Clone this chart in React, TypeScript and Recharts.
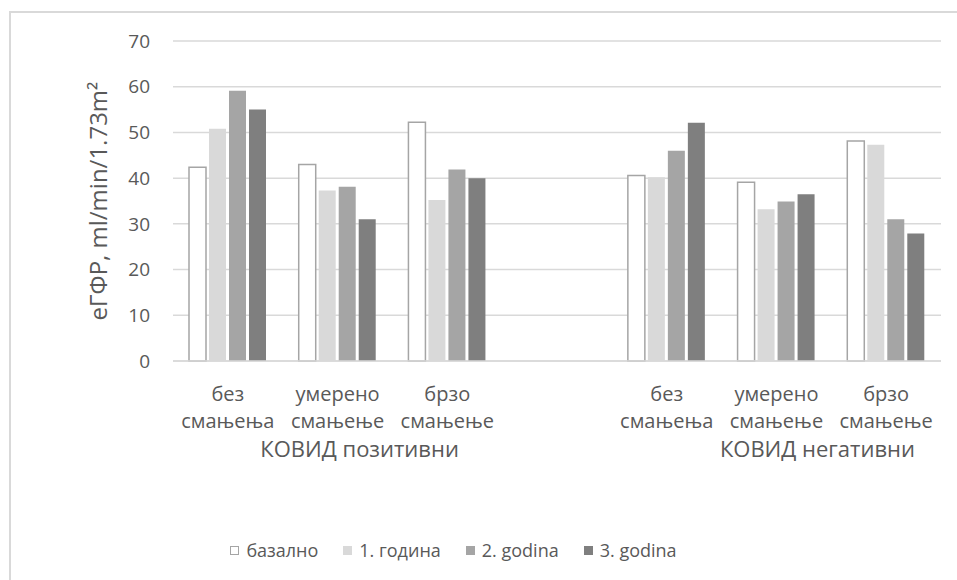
import React from "react";
import { BarChart, Bar, XAxis, YAxis, CartesianGrid, Legend } from "recharts";

// Category slots; the empty slot separates the two patient groups
const categoryTop = ["без", "умерено", "брзо", "", "без", "умерено", "брзо"];
const categoryBottom = ["смањења", "смањење", "смањење", "", "смањења", "смањење", "смањење"];
const groupLabels = ["КОВИД позитивни", "КОВИД негативни"];

const baseline = [42.4, 43.0, 52.2, null, 40.6, 39.1, 48.1];
const year1 = [50.8, 37.3, 35.2, null, 40.2, 33.2, 47.3];
const year2 = [59.1, 38.1, 41.9, null, 46.0, 34.9, 31.0];
const year3 = [55.0, 31.0, 40.0, null, 52.1, 36.5, 27.9];

const yTicks = [0, 10, 20, 30, 40, 50, 60, 70];

const seriesKeys = ["baseline", "year1", "year2", "year3"];
const seriesNames = ["базално", "1. година", "2. godina", "3. godina"];

const data = categoryTop.map((top, i) => ({
  key: `c${i}`,
  top,
  bottom: categoryBottom[i],
  baseline: baseline[i],
  year1: year1[i],
  year2: year2[i],
  year3: year3[i],
}));

const FONT = "'Open Sans', sans-serif";
const TEXT = "#595959";

// group label sits under the middle slot of each group, shifted a little right
const groupAt: Record<number, { label: string; dx: number }> = {
  1: { label: groupLabels[0], dx: 22 },
  5: { label: groupLabels[1], dx: 41 },
};

function CategoryTick(props: any) {
  const { x, y, payload, index } = props;
  const i = payload?.index ?? index;
  const item = data[i];
  const group = groupAt[i];
  return (
    <g fontFamily={FONT} fill={TEXT}>
      {item && item.top ? (
        <g fontSize={20}>
          <text x={x} y={y + 32} textAnchor="middle">
            {item.top}
          </text>
          <text x={x} y={y + 59} textAnchor="middle">
            {item.bottom}
          </text>
        </g>
      ) : null}
      {group ? (
        <text x={x + group.dx} y={y + 88} textAnchor="middle" fontSize={22}>
          {group.label}
        </text>
      ) : null}
    </g>
  );
}

function LegendContent(props: any) {
  // keep the series order instead of the default alphabetical one
  const payload = [...(props.payload || [])].sort(
    (a: any, b: any) => seriesKeys.indexOf(a.dataKey) - seriesKeys.indexOf(b.dataKey)
  );
  return (
    <div
      style={{
        display: "flex",
        justifyContent: "center",
        alignItems: "center",
        height: 30,
        fontFamily: FONT,
        fontSize: 18,
        color: TEXT,
        paddingRight: 34,
      }}
    >
      {payload.map((p: any, i: number) => {
        const outlined = p.dataKey === "baseline";
        return (
          <div
            key={p.value}
            style={{ display: "flex", alignItems: "center", marginLeft: i === 0 ? 0 : 25 }}
          >
            <span
              style={{
                display: "inline-block",
                width: outlined ? 7 : 9,
                height: outlined ? 7 : 9,
                background: outlined ? "#ffffff" : p.color,
                border: outlined ? "1.5px solid #a5a5a5" : "none",
                marginRight: 7,
              }}
            />
            <span>{p.value}</span>
          </div>
        );
      })}
    </div>
  );
}

export default function App() {
  return (
    <div
      style={{
        position: "absolute",
        left: 0,
        top: 0,
        width: 957,
        height: 580,
        overflow: "hidden",
        background: "#fff",
      }}
    >
      <div
        style={{
          position: "absolute",
          left: 9,
          top: 11,
          width: 1000,
          height: 1000,
          border: "2px solid #d9d9d9",
        }}
      />
      <div style={{ position: "absolute", left: 0, top: 0 }}>
        <BarChart
          width={957}
          height={580}
          data={data}
          margin={{ top: 41, right: 16, left: 0, bottom: 15 }}
          barCategoryGap={16}
          barGap={3}
        >
          <CartesianGrid vertical={false} stroke="#d9d9d9" strokeWidth={1.5} />
          <XAxis
            dataKey="key"
            height={174}
            tickLine={false}
            axisLine={{ stroke: "#d9d9d9", strokeWidth: 1.5 }}
            interval={0}
            tick={<CategoryTick />}
          />
          <YAxis
            width={173}
            domain={[0, 70]}
            ticks={yTicks}
            axisLine={false}
            tickLine={false}
            tickSize={0}
            tickMargin={23}
            tick={{ fill: TEXT, fontSize: 19, fontFamily: FONT }}
            label={{
              value: "еГФР, ml/min/1.73m²",
              angle: -90,
              position: "center",
              dx: 12,
              style: { fill: TEXT, fontSize: 24, fontFamily: FONT, textAnchor: "middle" },
            }}
          />
          <Legend verticalAlign="bottom" content={<LegendContent />} />
          <Bar
            dataKey="baseline"
            name={seriesNames[0]}
            fill="#ffffff"
            stroke="#a5a5a5"
            strokeWidth={1.5}
            isAnimationActive={false}
          />
          <Bar dataKey="year1" name={seriesNames[1]} fill="#d9d9d9" isAnimationActive={false} />
          <Bar dataKey="year2" name={seriesNames[2]} fill="#a5a5a5" isAnimationActive={false} />
          <Bar dataKey="year3" name={seriesNames[3]} fill="#7f7f7f" isAnimationActive={false} />
        </BarChart>
      </div>
    </div>
  );
}
